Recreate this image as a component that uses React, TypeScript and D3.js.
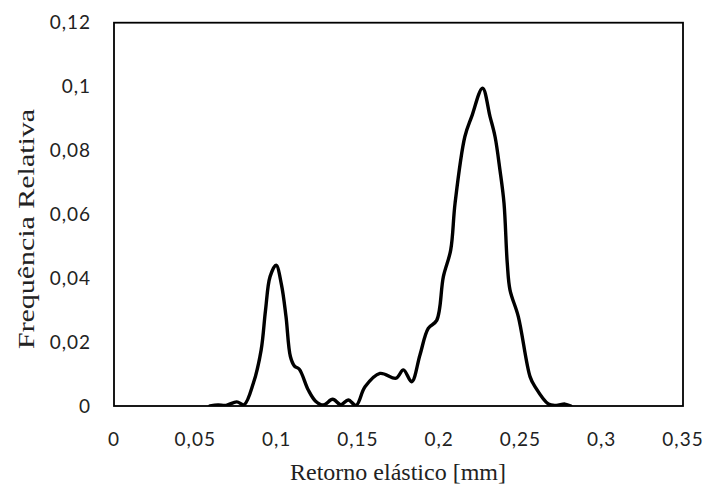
import React from "react";
import * as d3 from "d3";

const xValues = [0.059, 0.064, 0.069, 0.0755, 0.08, 0.0857, 0.0905, 0.0932, 0.096, 0.0997, 0.103, 0.1058, 0.1085, 0.111, 0.114, 0.1195, 0.124, 0.1288, 0.1345, 0.1395, 0.1441, 0.1489, 0.1544, 0.1636, 0.1735, 0.178, 0.1831, 0.1882, 0.1933, 0.1985, 0.2026, 0.2071, 0.2098, 0.2158, 0.22, 0.2267, 0.2313, 0.2344, 0.2374, 0.2399, 0.2419, 0.2436, 0.2487, 0.2559, 0.259, 0.2672, 0.272, 0.2774, 0.281];
const freqValues = [0, 0.0003, 0.0002, 0.0013, 0.0004, 0.0071, 0.0175, 0.03, 0.0405, 0.0441, 0.038, 0.028, 0.0155, 0.0125, 0.0115, 0.005, 0.0015, 0.0003, 0.0021, 0.0004, 0.0019, 0.0002, 0.006, 0.0102, 0.0087, 0.0113, 0.0076, 0.016, 0.0243, 0.0268, 0.0405, 0.0488, 0.0635, 0.0843, 0.0906, 0.0995, 0.0906, 0.0843, 0.0739, 0.0635, 0.0447, 0.0363, 0.028, 0.0092, 0.006, 0.0006, 0.0002, 0.0006, 0];

const xTicks = [0, 0.05, 0.1, 0.15, 0.2, 0.25, 0.3, 0.35];
const yTicks = [0, 0.02, 0.04, 0.06, 0.08, 0.1, 0.12];

const xTitle = "Retorno elástico [mm]";
const yTitle = "Frequência Relativa";

const fmt = (v: number) => String(+v.toFixed(3)).replace(".", ",");

export default function App() {
  const W = 707, H = 488;
  const left = 114, right = 683, top = 22.7, bottom = 406;
  const x = d3.scaleLinear().domain([0, 0.35]).range([left, right]);
  const y = d3.scaleLinear().domain([0, 0.12]).range([bottom, top]);
  const pts = xValues.map((v, i) => [v, freqValues[i]] as [number, number]);
  const line = d3
    .line<[number, number]>()
    .x((d) => x(d[0]))
    .y((d) => y(d[1]))
    .curve(d3.curveCatmullRom.alpha(0.5));
  const tickFont = "Lato, 'Open Sans', sans-serif";
  return (
    <svg
      width={W}
      height={H}
      style={{ position: "absolute", left: 0, top: 0, background: "#fff" }}
    >
      <defs>
        <clipPath id="plotclip">
          <rect x={left} y={top - 5} width={right - left} height={bottom - top + 5} />
        </clipPath>
      </defs>
      <rect x={0} y={0} width={W} height={H} fill="#fff" />
      <path
        d={line(pts) || ""}
        fill="none"
        stroke="#000"
        strokeWidth={3.4}
        strokeLinejoin="round"
        strokeLinecap="round"
        clipPath="url(#plotclip)"
      />
      <rect
        x={left}
        y={top}
        width={right - left}
        height={bottom - top}
        fill="none"
        stroke="#000"
        strokeWidth={1.8}
      />
      {yTicks.map((t) => (
        <text
          key={"y" + t}
          x={91}
          y={y(t) + 6.5}
          textAnchor="end"
          fontFamily={tickFont}
          fontSize={19}
          letterSpacing={1}
          fill="#222"
        >
          {fmt(t)}
        </text>
      ))}
      {xTicks.map((t) => (
        <text
          key={"x" + t}
          x={x(t)}
          y={445.5}
          textAnchor="middle"
          fontFamily={tickFont}
          fontSize={19}
          letterSpacing={1}
          fill="#222"
        >
          {fmt(t)}
        </text>
      ))}
      <text
        x={398}
        y={480}
        textAnchor="middle"
        fontFamily="'Liberation Serif', 'Times New Roman', serif"
        fontSize={24}
        fill="#222"
      >
        {xTitle}
      </text>
      <text
        transform="translate(34,229) rotate(-90)"
        textAnchor="middle"
        fontFamily="'Liberation Serif', 'Times New Roman', serif"
        fontSize={23}
        textLength={240}
        lengthAdjust="spacingAndGlyphs"
        fill="#222"
      >
        {yTitle}
      </text>
    </svg>
  );
}
